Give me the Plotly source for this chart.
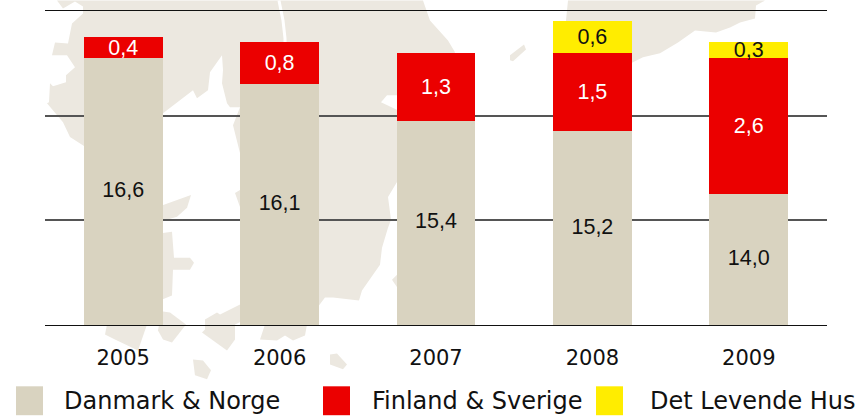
import plotly.graph_objects as go

years = ["2005", "2006", "2007", "2008", "2009"]
danmark_norge = [16.6, 16.1, 15.4, 15.2, 14.0]
finland_sverige = [0.4, 0.8, 1.3, 1.5, 2.6]
det_levende_hus = [None, None, None, 0.6, 0.3]

series_names = ["Danmark & Norge", "Finland & Sverige", "Det Levende Hus"]
colors = ["#D9D3C0", "#EB0000", "#FFED00"]
text_colors = ["#111111", "#FFFFFF", "#111111"]
AXIS_MIN, AXIS_MAX = 11.5, 17.5

W, H = 858, 416
L, R, T, B = 45, 31, 10.5, 90.5
LAND = "#ECE8E0"

# decorative background map, traced in window pixels
map_land = [
    [(57,0),(63,8),(75,1),(83,6),(83,13),(72,23),(68,43),(55,42),(52,55),(67,55),(75,67),(66,75),(66,82),
     (53,86),(50,83),(49,102),(47,103),(63,122),(70,137),(84,146),(130,170),(163,113),(193,90),(197,98),
     (208,90),(210,72),(222,55),(223,70),(222,83),(227,103),(230,107),(240,107),(233,125),(240,153),
     (240,190),(235,193),(240,207),(260,260),(265,325),(260,340),(277,341),(285,336),(293,341),(305,336),
     (307,325),(319,306),(325,298),(333,298),(359,301),(362,291),(380,265),(382,248),(388,228),(391,220),
     (388,197),(397,182),(420,120),(455,52),(448,40),(430,20),(423,0)],
    [(568,0),(566,20),(580,80),(631,63),(643,57),(660,53),(678,42),(695,30),(716,32),(730,27),(740,22),
     (755,18),(756,5),(765,0)],
    [(510,55),(524,44),(526,49),(513,61),(510,60)],
    [(150,210),(191,195),(187,208),(177,217),(150,225)],
    [(150,235),(172,232),(174,258),(190,258),(194,263),(190,270),(173,270),(172,296),(150,305)],
    [(107,325),(105,335),(115,340),(138,351),(147,325)],
    [(163,312),(170,313),(186,325),(172,343),(163,340),(158,331),(160,320)],
    [(250,300),(220,315),(217,313),(205,320),(205,330),(202,333),(227,351),(235,340),(235,325),(250,318)],
    [(193,360),(203,361),(211,371),(207,380),(195,376)],
    [(330,355),(337,354),(347,365),(343,370),(330,365)],
    [(400,272),(392,280),(400,292)],
]
map_white = [
    [(381,102),(387,95),(400,95),(400,111)],
]
border_line = [(279,0),(283,20),(285,38),(285,50)]


def px(x):
    return (x - L) / (W - L - R)


def py(y):
    return 1 - (y - T) / (H - T - B)


def path(points, close=True):
    d = "M " + " L ".join(f"{px(x):.5f},{py(y):.5f}" for x, y in points)
    return d + (" Z" if close else "")


shapes = []
for poly in map_land:
    shapes.append(dict(type="path", path=path(poly), xref="paper", yref="paper", layer="below",
                       fillcolor=LAND, line=dict(width=0)))
for poly in map_white:
    shapes.append(dict(type="path", path=path(poly), xref="paper", yref="paper", layer="below",
                       fillcolor="white", line=dict(width=0)))
shapes.append(dict(type="path", path=path(border_line, close=False), xref="paper", yref="paper", layer="below",
                   line=dict(color="white", width=3)))


def fmt(v):
    return None if v is None else f"{v:.1f}".replace(".", ",")


fig = go.Figure()
all_series = [danmark_norge, finland_sverige, det_levende_hus]
for i, (name, vals, color, tc) in enumerate(zip(series_names, all_series, colors, text_colors)):
    fig.add_bar(x=years, y=vals, name=name, marker=dict(color=color, line=dict(width=0)),
                text=None if i == 0 else [fmt(v) for v in vals],
                textposition="inside", insidetextanchor="middle", textangle=0, constraintext="none",
                textfont=dict(family="Liberation Sans", size=21.5, color=tc), hoverinfo="skip")

# the first series starts below the cropped axis, so its labels are centred on the visible part
fig.add_scatter(x=years, y=[(AXIS_MIN + v) / 2 for v in danmark_norge], mode="text",
                text=[fmt(v) for v in danmark_norge], textposition="middle center",
                textfont=dict(family="Liberation Sans", size=21.5, color=text_colors[0]), hoverinfo="skip")

annotations = []
# legend drawn by hand: swatches of the reference are larger than Plotly's
legend_x = [(16, 43, 64), (323, 350, 372), (596, 623, 650)]
for (x0, x1, tx), name, color in zip(legend_x, series_names, colors):
    shapes.append(dict(type="rect", xref="paper", yref="paper", x0=px(x0), x1=px(x1), y0=py(416), y1=py(387),
                       fillcolor=color, line=dict(width=0)))
    annotations.append(dict(text=name, xref="paper", yref="paper", x=px(tx), y=py(402), xanchor="left",
                            yanchor="middle", showarrow=False, xshift=-2,
                            font=dict(family="DejaVu Sans", size=24, color="#111111")))

fig.update_layout(
    width=W, height=H, margin=dict(l=L, r=R, t=T, b=B, pad=0, autoexpand=False),
    barmode="stack", bargap=0.495, showlegend=False,
    paper_bgcolor="white", plot_bgcolor="rgba(0,0,0,0)",
    shapes=shapes, annotations=annotations,
    xaxis=dict(type="category", range=[-0.5, 4.5], showgrid=False, showline=True, mirror=True,
               linecolor="#111111", linewidth=1, layer="below traces", zeroline=False,
               ticks="", ticklabelstandoff=14,
               tickfont=dict(family="DejaVu Sans", size=21, color="#111111")),
    yaxis=dict(range=[AXIS_MIN, AXIS_MAX], tick0=AXIS_MIN, dtick=2, showticklabels=False, ticks="",
               showgrid=True, gridcolor="#555555", gridwidth=2, zeroline=False, showline=False),
)
fig.write_html("out.html", post_script="document.body.style.margin='0';", config=dict(displayModeBar=False))
